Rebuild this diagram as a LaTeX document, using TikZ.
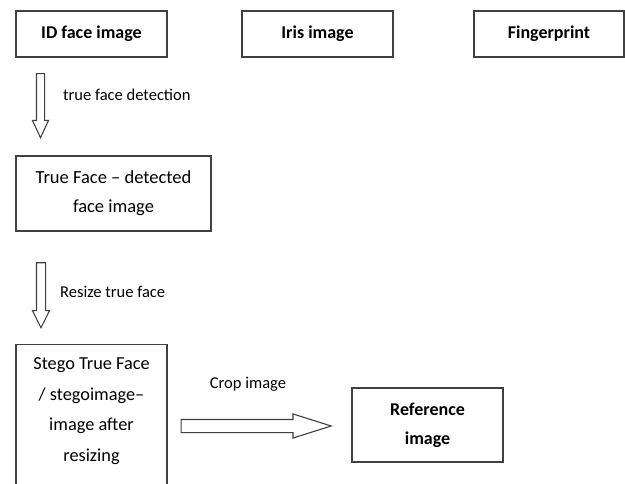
\documentclass[tikz,border=0pt]{standalone}
\usepackage{fontspec}
\setmainfont{Carlito}
\usetikzlibrary{shapes.arrows}

\begin{document}
\begin{tikzpicture}[x=1pt,y=-1pt,
    box/.style={draw=black!75, line width=1.3pt, inner sep=0pt, align=center, font=\fontsize{18.5}{29}\selectfont},
    boldbox/.style={box, font=\fontsize{18}{29}\selectfont\bfseries},
    blockarrow/.style={single arrow, draw=black!75, line width=1.1pt, inner xsep=0pt, anchor=tip, single arrow head indent=0pt},
    note/.style={inner sep=0pt, font=\fontsize{16.5}{20}\selectfont}]
  \useasboundingbox (0,0) rectangle (625,484);
  \node[boldbox, minimum width=151pt, minimum height=46pt] (idface) at (91.5,34) {ID face image};
  \node[boldbox, minimum width=151pt, minimum height=46pt] (iris) at (317.5,34) {Iris image};
  \node[boldbox, minimum width=150pt, minimum height=46pt] (finger) at (549,34) {Fingerprint};
  \node[box, minimum width=195pt, minimum height=75pt] (trueface) at (113.5,193.5) {True Face -- detected\\face image};
  \node[box, minimum width=151pt, minimum height=146pt, anchor=north] (stego) at (91.5,344) {};
  \node[box, draw=none, font=\fontsize{18.3}{30.5}\selectfont] (stegotext) at (91.5,411) {Stego True Face\\/ stegoimage--\\image after\\resizing};
  \node[boldbox, minimum width=151pt, minimum height=74pt] (ref) at (427.5,425) {Reference\\image};
  \node[blockarrow, rotate=-90, minimum height=64pt, inner ysep=3.5pt, single arrow head extend=4pt, single arrow tip angle=50] (detect) at (40.5,139) {};
  \node[blockarrow, rotate=-90, minimum height=65pt, inner ysep=4pt, single arrow head extend=4pt, single arrow tip angle=53] (resize) at (41,329) {};
  \node[blockarrow, minimum height=150pt, inner ysep=6pt, single arrow head extend=5.5pt, single arrow tip angle=35] (crop) at (333,426) {};
  \node[note, anchor=west] (detectlabel) at (63,95) {true face detection};
  \node[note, anchor=west] (resizelabel) at (60,292) {Resize true face};
  \node[note] (croplabel) at (248,384) {Crop image};
\end{tikzpicture}
\end{document}
